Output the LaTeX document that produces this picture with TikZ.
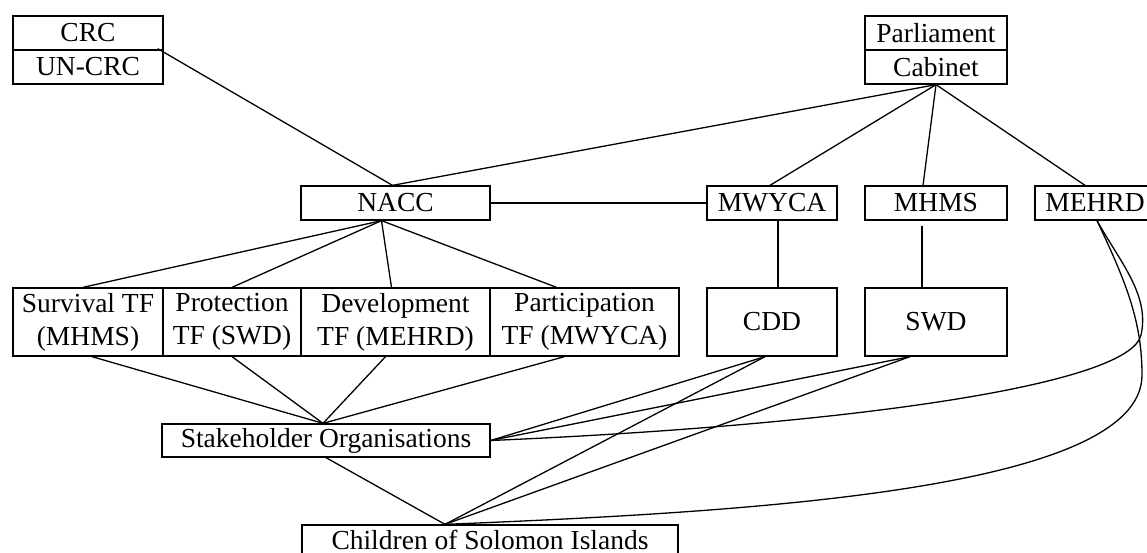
\documentclass[tikz,border=0pt]{standalone}
\usepackage{fontspec}
\setmainfont{Liberation Serif}
\usetikzlibrary{calc}
\begin{document}
\begin{tikzpicture}[x=1pt,y=-1pt,
  box/.style={draw, line width=1.3pt, inner sep=0pt, minimum height=34pt,
    align=center, font=\fontsize{27.5}{33}\selectfont},
  tall/.style={minimum height=68pt},
  conn/.style={line width=1.3pt}]
\useasboundingbox (0,0) rectangle (1147,553);
% top
\node[box, minimum width=150pt] (crc)   at (88,33)  {CRC};
\node[box, minimum width=150pt] (uncrc) at (88,67)  {UN-CRC};
\node[box, minimum width=142pt] (parl)  at (936,33) {Parliament};
\node[box, minimum width=142pt] (cab)   at (936,67) {Cabinet};
% second row
\node[box, minimum width=189pt] (nacc)  at (395.5,203) {NACC};
\node[box, minimum width=130pt] (mwyca) at (772,203) {MWYCA};
\node[box, minimum width=142pt] (mhms)  at (936,203) {MHMS};
\node[box, minimum width=120pt] (mehrd) at (1095,203) {MEHRD};
% third row
\node[box, tall, minimum width=150pt] (surv) at (88,322)    {Survival TF\\(MHMS)};
\node[box, tall, minimum width=138pt] (prot) at (232,322)   {Protection\\TF (SWD)};
\node[box, tall, minimum width=189pt] (dev)  at (395.5,322) {Development\\TF (MEHRD)};
\node[box, tall, minimum width=189pt] (part) at (584.5,322) {Participation\\TF (MWYCA)};
\node[box, tall, minimum width=130pt] (cdd)  at (772,322)   {CDD};
\node[box, tall, minimum width=142pt] (swd)  at (936,322)   {SWD};
% bottom
\node[box, minimum width=328pt, minimum height=33pt] (stake) at (326,440.5) {Stakeholder Organisations};
\node[box, minimum width=376pt, minimum height=30pt] (child) at (490,540) {Children of Solomon Islands};
% connectors
\draw[conn] ($(crc.south east)+(-6,-2)$) -- ($(nacc.north)+(-3,0)$);
\draw[conn] (cab.south) -- ($(nacc.north)+(-3,0)$);
\draw[conn] (cab.south) -- ($(mwyca.north)+(-2,0)$);
\draw[conn] (cab.south) -- ($(mhms.north)+(-13,0)$);
\draw[conn] (cab.south) -- ($(mehrd.north)+(-10,0)$);
\draw[conn] (nacc.east) -- (mwyca.west);
\coordinate (naccb) at ($(nacc.south)+(-14,0)$);
\draw[conn] (naccb) -- ($(surv.north)+(-5,0)$);
\draw[conn] (naccb) -- (prot.north);
\draw[conn] (naccb) -- ($(dev.north)+(-4,0)$);
\draw[conn] (naccb) -- ($(part.north)+(-28,0)$);
\draw[conn] ($(mwyca.south)+(6,0)$) -- ($(cdd.north)+(6,0)$);
\draw[conn] ($(mhms.south)+(-14,5)$) -- ($(swd.north)+(-14,0)$);
\coordinate (stakt) at ($(stake.north)+(-3,0)$);
\draw[conn] ($(surv.south)+(4,0)$) -- (stakt);
\draw[conn] (prot.south) -- (stakt);
\draw[conn] ($(dev.south)+(-10,0)$) -- (stakt);
\draw[conn] ($(part.south)+(-20,0)$) -- (stakt);
\coordinate (childt) at ($(child.north)+(-45,0)$);
\draw[conn] (stake.south) -- (childt);
\draw[conn] ($(cdd.south)+(-7,0)$) -- (stake.east);
\draw[conn] ($(cdd.south)+(-7,0)$) -- (childt);
\draw[conn] ($(swd.south)+(-26,0)$) -- (stake.east);
\draw[conn] ($(swd.south)+(-26,0)$) -- (childt);
\draw[conn] ($(mehrd.south)+(2,0)$) .. controls (1120,262) and (1150,295) .. (1141,335)
   .. controls (1130,385) and (850,425) .. (stake.east);
\draw[conn] ($(mehrd.south)+(2,0)$) .. controls (1125,280) and (1142,320) .. (1142,375)
   .. controls (1142,490) and (750,512) .. (childt);
\end{tikzpicture}
\end{document}
